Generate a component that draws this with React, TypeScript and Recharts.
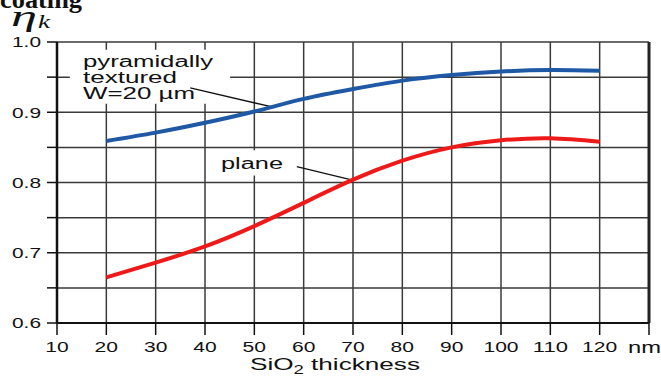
import React from 'react'
import { LineChart, Line, XAxis, YAxis, CartesianGrid, ReferenceLine, ReferenceArea } from 'recharts'

const thickness = [20, 30, 40, 50, 60, 70, 80, 90, 100, 110, 120]
const pyramidal = [0.859, 0.871, 0.885, 0.901, 0.919, 0.933, 0.945, 0.953, 0.958, 0.960, 0.959]
const plane = [0.665, 0.686, 0.709, 0.738, 0.771, 0.804, 0.831, 0.850, 0.860, 0.863, 0.858]

const xTicks = [10, 20, 30, 40, 50, 60, 70, 80, 90, 100, 110, 120, 130]
const yTicks = [0.6, 0.65, 0.7, 0.75, 0.8, 0.85, 0.9, 0.95, 1.0]

const data = thickness.map((t, i) => ({ t, pyramidal: pyramidal[i], plane: plane[i] }))

const sans = '"Liberation Sans", Arial, sans-serif'
const serif = '"Liberation Serif", "Times New Roman", serif'

function XTick(props: any) {
  const { x, y, payload } = props
  if (payload.value === 130) return <g />
  const s = String(payload.value)
  return (
    <text x={x} y={y} dy="0.71em" textAnchor="middle" fontFamily={sans} fontSize={15} fill="#111"
      textLength={s.length * 11.7} lengthAdjust="spacingAndGlyphs">
      {s}
    </text>
  )
}

function YTick(props: any) {
  const { x, y, payload } = props
  const v = payload.value
  if (Math.abs(v * 10 - Math.round(v * 10)) > 1e-6) return <g />
  return (
    <text x={x} y={y} dy="0.36em" textAnchor="end" fontFamily={sans} fontSize={15} fill="#111"
      textLength={29} lengthAdjust="spacingAndGlyphs">
      {v.toFixed(1)}
    </text>
  )
}

export default function App() {
  return (
    <div style={{ position: 'absolute', left: 0, top: 0, width: 661, height: 376, background: '#fff', overflow: 'hidden' }}>
      <LineChart width={661} height={376} data={data} margin={{ top: 42, right: 12, bottom: 0, left: 0 }}>
        <CartesianGrid stroke="#3a3a3a" strokeWidth={1.5} />
        <ReferenceArea x1={12.6} x2={45.1} y1={0.912} y2={0.989} fill="#fff" fillOpacity={1} stroke="none" />
        <ReferenceArea x1={41.4} x2={57.2} y1={0.81} y2={0.846} fill="#fff" fillOpacity={1} stroke="none" />
        <XAxis dataKey="t" type="number" domain={[10, 130]} ticks={xTicks} height={53}
          axisLine={{ stroke: '#111', strokeWidth: 2 }} tickLine={{ stroke: '#111', strokeWidth: 1.5 }}
          tickSize={12} tickMargin={6} tick={<XTick />} interval={0} />
        <YAxis type="number" domain={[0.6, 1.0]} ticks={yTicks} width={57}
          axisLine={{ stroke: '#111', strokeWidth: 2.5 }} tickLine={{ stroke: '#111', strokeWidth: 1.5 }}
          tickSize={10} tickMargin={6} tick={<YTick />} interval={0} />
        <ReferenceLine x={130} stroke="#222" strokeWidth={3} />
        <ReferenceLine segment={[{ x: 37, y: 0.9346 }, { x: 53.6, y: 0.9075 }]} stroke="#111" strokeWidth={1.3} />
        <ReferenceLine segment={[{ x: 58.6, y: 0.8226 }, { x: 69.7, y: 0.8037 }]} stroke="#111" strokeWidth={1.3} />
        <Line dataKey="pyramidal" type="natural" stroke="#1f58a4" strokeWidth={4} dot={false} isAnimationActive={false} />
        <Line dataKey="plane" type="natural" stroke="#ee1a1a" strokeWidth={4} dot={false} isAnimationActive={false} />
      </LineChart>
      <svg width={661} height={376} style={{ position: 'absolute', left: 0, top: 0, pointerEvents: 'none' }}>
        <text x={0} y={8} fontFamily={serif} fontWeight="bold" fontSize={26} fill="#111"
          textLength={82} lengthAdjust="spacingAndGlyphs">coating</text>
        <text x={11} y={26} fontFamily={serif} fontStyle="italic" fontSize={30} fill="#111"
          textLength={26} lengthAdjust="spacingAndGlyphs">η</text>
        <text x={38} y={28} fontFamily={serif} fontStyle="italic" fontSize={18} fill="#111"
          textLength={12} lengthAdjust="spacingAndGlyphs">k</text>
        <g fontFamily={sans} fontSize={16} fill="#111">
          <text x={83} y={67} textLength={130} lengthAdjust="spacingAndGlyphs">pyramidally</text>
          <text x={83} y={83} textLength={94} lengthAdjust="spacingAndGlyphs">textured</text>
          <text x={83} y={99} textLength={112} lengthAdjust="spacingAndGlyphs">W=20 µm</text>
          <text x={221} y={169} textLength={62} lengthAdjust="spacingAndGlyphs">plane</text>
          <text x={628} y={353} fontSize={17} textLength={33} lengthAdjust="spacingAndGlyphs">nm</text>
          <text x={250} y={370} fontSize={17} textLength={170} lengthAdjust="spacingAndGlyphs">
            SiO<tspan fontSize={12} dy={4}>2</tspan><tspan dy={-4}> thickness</tspan>
          </text>
        </g>
      </svg>
    </div>
  )
}
